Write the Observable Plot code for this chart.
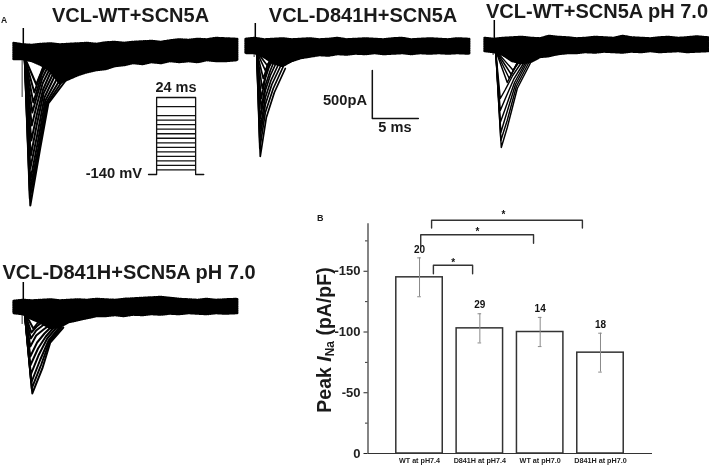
<!DOCTYPE html>
<html>
<head>
<meta charset="utf-8">
<script src="https://cdn.jsdelivr.net/npm/d3@7"></script>
<script src="https://cdn.jsdelivr.net/npm/@observablehq/plot@0.6"></script>
<style>
html,body{margin:0;padding:0;background:#fff}
#fig{position:relative;width:709px;height:466px;overflow:hidden;font-family:"Liberation Sans",Arial,sans-serif;color:#1a1a1a;filter:blur(0.35px)}
#fig svg{position:absolute;background:transparent;overflow:visible}
.lab{position:absolute;font-weight:bold;white-space:nowrap;line-height:1}
</style>
</head>
<body>
<div id="fig"></div>
<script>
// ---------- Bar chart values ----------
const categories = ["WT at pH7.4","D841H at pH7.4","WT at pH7.0","D841H at pH7.0"];
const peakValues = [-145,-103,-100,-83];
const errLow = [-129,-91,-88,-67];
const errHigh = [-161,-115,-112,-99];
const cellCounts = ["20","29","14","18"];
const yTicks = [0,-50,-100,-150];
const yMinorTicks = [-25,-75,-125,-175];
// brackets: from, to, level, left end, right end (category position / pA/pF)
const bracketA = [[1.23,-148],[1.23,-155],[1.88,-155],[1.88,-148]];
const bracketB = [[1.02,-170],[1.02,-180],[2.89,-180],[2.89,-173]];
const bracketC = [[1.2,-185.5],[1.2,-192],[3.7,-192],[3.7,-185.5]];
const starX = [1.56,1.96,2.39];
const starY = [-159,-184,-198];

// ---------- Current traces: time (ms), baseline noise envelope (pA) ----------
const gridT = [-1,0,1,2,3,4,5,6,7,8,9,10,11,12,13,14,15,16,17,18,19,20,21,22,23.3];
const top1 = [80,65,60,70,75,65,70,75,80,70,85,90,80,90,95,100,90,105,115,110,120,115,130,125,120];
const bot1 = [-80,-80,-100,-140,-200,-320,-280,-240,-210,-190,-180,-150,-140,-120,-130,-110,-120,-100,-110,-100,-110,-90,-100,-100,-90];
const top2 = [60,70,55,60,65,55,60,65,55,60,70,55,60,65,60,55,65,70,55,60,65,60,55,65,60];
const bot2 = [-80,-80,-120,-180,-210,-160,-130,-115,-100,-105,-90,-95,-85,-90,-80,-90,-85,-80,-90,-80,-85,-80,-85,-80,-85];
const top3 = [60,50,60,65,70,60,55,80,70,65,55,60,70,65,60,80,65,60,55,65,70,60,65,75,65];
const bot3 = [-70,-80,-110,-170,-190,-180,-130,-120,-100,-90,-90,-80,-85,-75,-80,-85,-75,-80,-70,-80,-75,-70,-80,-75,-70];
const top4 = [50,60,55,60,65,55,60,65,60,70,65,60,70,75,80,85,90,80,70,65,60,70,60,65,70];
const bot4 = [-70,-80,-130,-170,-220,-210,-160,-140,-120,-100,-100,-90,-100,-85,-90,-80,-85,-75,-80,-70,-75,-80,-70,-75,-70];

// each sweep: peak t,I, then three points of its decay t,I
const sweeps1 = [
 [.76,-1540,1.85,-960,2.72,-520,4.78,-270],
 [.71,-1470,1.75,-960,2.6,-520,4.5,-260],
 [.71,-1390,1.65,-960,2.5,-510,4.2,-250],
 [.76,-1290,1.55,-920,2.4,-490,3.9,-230],
 [.76,-1170,1.5,-840,2.3,-460,3.6,-210],
 [.82,-1040,1.45,-740,2.2,-420,3.4,-190],
 [.87,-890,1.45,-640,2.15,-380,3.15,-170],
 [.92,-740,1.45,-540,2.1,-320,3,-150],
 [.98,-610,1.5,-440,2.05,-270,2.8,-130],
 [1.09,-510,1.55,-370,2,-230,2.6,-110],
 [1.2,-410,1.63,-290,2.07,-190,2.5,-90],
 [1.41,-330,1.85,-230,2.17,-150,2.5,-90]];
const sweeps2 = [
 [.54,-1110,1.2,-720,2.07,-470,3.26,-230],
 [.49,-1030,1.09,-670,1.95,-430,3.04,-210],
 [.49,-930,1.09,-590,1.8,-390,2.83,-190],
 [.54,-830,1.09,-520,1.7,-350,2.61,-170],
 [.54,-730,1.09,-450,1.63,-300,2.39,-150],
 [.65,-630,1.09,-400,1.63,-250,2.17,-130],
 [.65,-530,1.09,-330,1.52,-210,2.07,-120],
 [.76,-430,1.2,-270,1.63,-170,1.96,-100],
 [.87,-330,1.3,-210,1.74,-140,2.07,-90],
 [1.09,-250,1.41,-180,1.85,-120,2.17,-90],
 [1.3,-200,1.63,-150,1.96,-110,2.39,-90]];
const sweeps3 = [
 [.76,-1030,1.41,-830,2.5,-440,3.9,-190],
 [.71,-960,1.4,-760,2.4,-420,3.7,-190],
 [.71,-880,1.3,-700,2.3,-400,3.5,-190],
 [.65,-780,1.2,-640,2.2,-380,3.4,-180],
 [.65,-660,1.2,-540,2.1,-350,3.3,-170],
 [.65,-540,1.2,-450,2,-310,3.1,-160],
 [1.41,-380,1.96,-280,2.61,-180,3.48,-120],
 [1.63,-340,2.17,-240,2.83,-160,3.59,-110],
 [1.85,-300,2.39,-200,3.04,-140,3.7,-100],
 [2.07,-260,2.61,-160,3.26,-120,3.91,-90]];
const sweeps4 = [
 [.98,-870,2.07,-620,2.93,-360,4.35,-210],
 [.92,-820,1.95,-580,2.85,-350,4.1,-210],
 [.87,-760,1.85,-530,2.75,-340,3.9,-210],
 [.82,-680,1.7,-480,2.6,-320,3.7,-200],
 [.76,-590,1.6,-420,2.45,-300,3.5,-190],
 [.76,-500,1.5,-360,2.3,-270,3.3,-180],
 [.76,-400,1.4,-290,2.2,-230,3.1,-170],
 [.82,-320,1.4,-240,2.1,-190,2.9,-150],
 [.87,-260,1.45,-200,2,-160,2.7,-130],
 [1.09,-220,1.52,-170,1.96,-140,2.39,-120]];
const sweepStart = [0.15,-60];
const spikes = [230,220,240,240];
const artefactLow = [-460,-120,-110,-180];
const sweepWeights = [2,1.7,1.45,2];
const scaleBarT = [12.72,12.72,17.72];
const scaleBarI = [-250,-730,-730];

// ---------- Voltage protocol ----------
const stepLevels = [-130,-120,-110,-100,-90,-80,-70,-60,-50,-40,-30,-20,-10,10];
const pulseT = [-5,0,0,24,24,29];
const pulseV = [-140,-140,30,30,-140,-140];

// ---------- Page ----------
const fig = document.getElementById("fig");
const ink = "#111";

function place(plot,left,top){
  plot.style.left = left+"px"; plot.style.top = top+"px"; fig.appendChild(plot);
}
function label(html,x,y,size,anchor){
  const d = document.createElement("div");
  d.className = "lab"; d.innerHTML = html;
  d.style.left = x+"px"; d.style.top = y+"px"; d.style.fontSize = size+"px";
  d.style.transform = anchor==="c" ? "translate(-50%,-50%)" : anchor==="r" ? "translate(-100%,-50%)" : "translateY(-50%)";
  fig.appendChild(d);
}
function panel(topEnv,botEnv,sweeps,spike,low,weight,extra,x0,y0){
  const band = gridT.map((t,i)=>({t,hi:topEnv[i],lo:botEnv[i]}));
  const lines = sweeps.flatMap((s,k)=>{
    const pts=[{k,t:sweepStart[0],i:sweepStart[1]}];
    for(let j=0;j<s.length;j+=2) pts.push({k,t:s[j],i:s[j+1]});
    return pts;
  });
  const p = Plot.plot({
    width:239.2,height:200,margin:0,
    x:{domain:[-1.5,24.5],axis:null},
    y:{domain:[-1700,300],axis:null},
    marks:[
      Plot.ruleX([-0.12],{y1:-60,y2:low,stroke:"#777",strokeWidth:1.5}),
      Plot.areaY(band,{x:"t",y1:"lo",y2:"hi",fill:"#000",stroke:"#000",strokeWidth:2.6,strokeDasharray:"1 1.2"}),
      Plot.line(lines,{x:"t",y:"i",z:"k",stroke:"#000",strokeWidth:weight}),
      Plot.ruleX([0],{y1:0,y2:spike,stroke:"#000",strokeWidth:1.5}),
      ...extra
    ]
  });
  place(p,x0-13.8,y0-30);
}
const scaleBar = [Plot.line(scaleBarT.map((t,i)=>({t,i:scaleBarI[i]})),{x:"t",y:"i",stroke:"#111",strokeWidth:1.5})];
panel(top1,bot1,sweeps1,spikes[0],artefactLow[0],sweepWeights[0],[],23,51);
panel(top2,bot2,sweeps2,spikes[1],artefactLow[1],sweepWeights[1],scaleBar,255,45);
panel(top3,bot3,sweeps3,spikes[2],artefactLow[2],sweepWeights[2],[],494,44);
panel(top4,bot4,sweeps4,spikes[3],artefactLow[3],sweepWeights[3],[],23,306);

// voltage protocol
place(Plot.plot({
  width:55.25,height:83,marginLeft:0,marginRight:0,marginTop:3,marginBottom:3,
  x:{domain:[-5,29],axis:null},
  y:{domain:[-140,30],axis:null},
  marks:[
    Plot.ruleY(stepLevels,{x1:0,x2:24,stroke:ink,strokeWidth:1.3}),
    Plot.line(pulseT.map((t,i)=>({t,v:pulseV[i]})),{x:"t",y:"v",stroke:ink,strokeWidth:1.3})
  ]
}),147.9,94);

// bar chart
const rows = categories.map((c,i)=>({p:i+1,c,v:peakValues[i],lo:errLow[i],hi:errHigh[i],n:cellCounts[i]}));
const halfW = 0.385, capW = 0.03;
const bracket = (b)=>Plot.line(b.map(([x,y])=>({x,y})),{x:"x",y:"y",stroke:"#333",strokeWidth:1.4});
place(Plot.plot({
  width:350,height:266,marginLeft:57.5,marginRight:8,marginTop:10,marginBottom:13,
  style:{fontFamily:"Liberation Sans, Arial, sans-serif"},
  x:{domain:[0.146,4.862],axis:null},
  y:{domain:[0,-200],axis:null},
  marks:[
    Plot.rectY(rows,{x1:d=>d.p-halfW,x2:d=>d.p+halfW,y1:0,y2:"v",fill:"#fff",stroke:"#333",strokeWidth:1.5}),
    Plot.ruleX(rows,{x:"p",y1:"lo",y2:"hi",stroke:"#8a8a8a",strokeWidth:1}),
    Plot.ruleY(rows,{y:"lo",x1:d=>d.p-capW,x2:d=>d.p+capW,stroke:"#8a8a8a",strokeWidth:1}),
    Plot.ruleY(rows,{y:"hi",x1:d=>d.p-capW,x2:d=>d.p+capW,stroke:"#8a8a8a",strokeWidth:1}),
    Plot.text(rows,{x:"p",y:"hi",text:"n",dy:-8.5,fontSize:10,fontWeight:"bold",fill:"#111"}),
    Plot.ruleY([0],{stroke:"#333",strokeWidth:1.2}),
    Plot.ruleX([0.146],{y1:0,y2:-189,stroke:"#333",strokeWidth:1.2}),
    Plot.axisY({ticks:yTicks,tickFormat:d=>String(d),tickSize:4,tickPadding:3.5,fontSize:13,fontWeight:"bold",color:"#222",label:null,anchor:"left"}),
    Plot.axisY({ticks:yMinorTicks,tickFormat:null,text:null,tickSize:2.5,color:"#333",label:null,anchor:"left"}),
    Plot.axisX({ticks:[1,2,3,4],tickFormat:d=>categories[d-1],tickSize:0,tickPadding:4,fontSize:7.2,fontWeight:"bold",color:"#222",label:null,anchor:"bottom"}),
    bracket(bracketA),bracket(bracketB),bracket(bracketC),
    Plot.text(starX.map((x,i)=>({x,y:starY[i]})),{x:"x",y:"y",text:()=>"*",fontSize:10,fontWeight:"bold",dy:2,fill:"#111"})
  ]
}),310,200);

// texts
label("VCL-WT+SCN5A",130.5,15,20,"c");
label("VCL-D841H+SCN5A",363,15,20,"c");
label("VCL-WT+SCN5A pH 7.0",597,11,20,"c");
label("VCL-D841H+SCN5A pH 7.0",129,272,20,"c");
label("A",1,20,8.5);
label("B",317,218,9);
label("24 ms",176,87,14.5,"c");
label("-140 mV",142,173,14.7,"r");
label("500pA",367,100,14.7,"r");
label("5 ms",395,127,14.6,"c");
const yl = document.createElement("div");
yl.className="lab";
yl.innerHTML='Peak <i>I</i><sub style="font-size:12px;vertical-align:-3px;line-height:0">Na</sub> (pA/pF)';
yl.style.cssText+="left:325px;top:340px;font-size:19.5px;transform:translate(-50%,-50%) rotate(-90deg);";
fig.appendChild(yl);
</script>
</body>
</html>
